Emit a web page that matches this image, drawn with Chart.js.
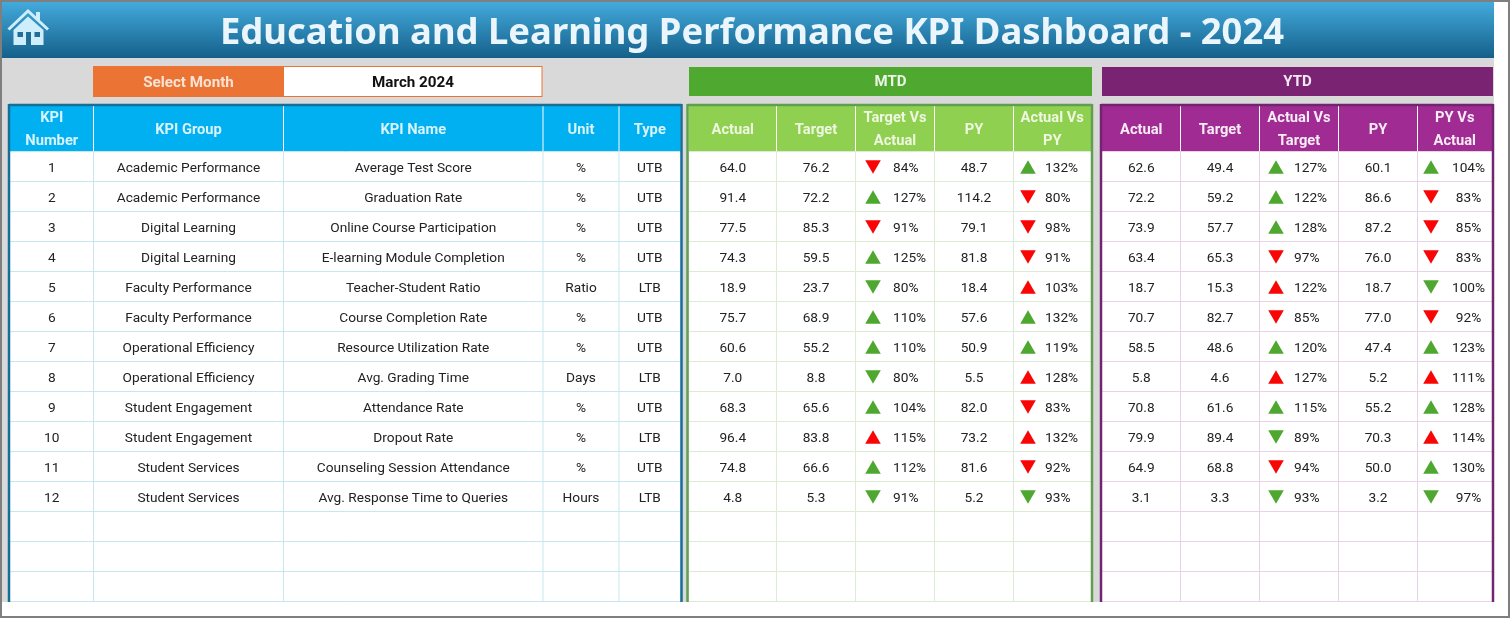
<!DOCTYPE html>
<html>
<head>
<meta charset="utf-8">
<title>Education and Learning Performance KPI Dashboard</title>
<script src="https://cdn.jsdelivr.net/npm/chart.js@4"></script>
<style>
html, body { margin: 0; padding: 0; background: #fff; overflow: hidden; }
canvas { display: block; }
</style>
</head>
<body>
<canvas id="dashboard" width="1510" height="618"></canvas>
<script>
const titleText = 'Education and Learning Performance KPI Dashboard - 2024';
const selectLabel = 'Select Month';
const selectedMonth = 'March 2024';

const infoHeaders = [['KPI', 'Number'], ['KPI Group'], ['KPI Name'], ['Unit'], ['Type']];
const mtdHeaders = [['Actual'], ['Target'], ['Target Vs', 'Actual'], ['PY'], ['Actual Vs', 'PY']];
const ytdHeaders = [['Actual'], ['Target'], ['Actual Vs', 'Target'], ['PY'], ['PY Vs', 'Actual']];

const kpiNumbers = [1, 2, 3, 4, 5, 6, 7, 8, 9, 10, 11, 12];
const kpiGroups = ['Academic Performance', 'Academic Performance', 'Digital Learning', 'Digital Learning',
    'Faculty Performance', 'Faculty Performance', 'Operational Efficiency', 'Operational Efficiency',
    'Student Engagement', 'Student Engagement', 'Student Services', 'Student Services'];
const kpiNames = ['Average Test Score', 'Graduation Rate', 'Online Course Participation',
    'E-learning Module Completion', 'Teacher-Student Ratio', 'Course Completion Rate',
    'Resource Utilization Rate', 'Avg. Grading Time', 'Attendance Rate', 'Dropout Rate',
    'Counseling Session Attendance', 'Avg. Response Time to Queries'];
const kpiUnits = ['%', '%', '%', '%', 'Ratio', '%', '%', 'Days', '%', '%', '%', 'Hours'];
const kpiTypes = ['UTB', 'UTB', 'UTB', 'UTB', 'LTB', 'UTB', 'UTB', 'LTB', 'UTB', 'LTB', 'UTB', 'LTB'];

const mtdActual = ['64.0', '91.4', '77.5', '74.3', '18.9', '75.7', '60.6', '7.0', '68.3', '96.4', '74.8', '4.8'];
const mtdTarget = ['76.2', '72.2', '85.3', '59.5', '23.7', '68.9', '55.2', '8.8', '65.6', '83.8', '66.6', '5.3'];
const mtdVsTarget = [84, 127, 91, 125, 80, 110, 110, 80, 104, 115, 112, 91];
const mtdPY = ['48.7', '114.2', '79.1', '81.8', '18.4', '57.6', '50.9', '5.5', '82.0', '73.2', '81.6', '5.2'];
const mtdVsPY = [132, 80, 98, 91, 103, 132, 119, 128, 83, 132, 92, 93];

const ytdActual = ['62.6', '72.2', '73.9', '63.4', '18.7', '70.7', '58.5', '5.8', '70.8', '79.9', '64.9', '3.1'];
const ytdTarget = ['49.4', '59.2', '57.7', '65.3', '15.3', '82.7', '48.6', '4.6', '61.6', '89.4', '68.8', '3.3'];
const ytdVsTarget = [127, 122, 128, 97, 122, 85, 120, 127, 115, 89, 94, 93];
const ytdPY = ['60.1', '86.6', '87.2', '76.0', '18.7', '77.0', '47.4', '5.2', '55.2', '70.3', '50.0', '3.2'];
const ytdVsActual = [104, 83, 85, 83, 100, 92, 123, 111, 128, 114, 130, 97];

// layout, in sheet pixels
const FONT = 'Roboto';
const rowTop = 152, rowH = 30, rowCount = 15;
const infoEdges = [10, 93.5, 283.5, 543, 619, 680.5];
const mtdEdges = [689, 776.5, 855.5, 934.5, 1013.5, 1091];
const ytdEdges = [1102, 1180.5, 1259.5, 1338.5, 1417.5, 1492];

// arrow columns: x of the arrow, x of the label, label alignment
const arrowCols = [
    { values: mtdVsTarget, ax: 873, tx: 893, align: 'left' },
    { values: mtdVsPY, ax: 1028, tx: 1045, align: 'left' },
    { values: ytdVsTarget, ax: 1276, tx: 1294, align: 'left' },
    { values: ytdVsActual, ax: 1431, tx: 1468.5, align: 'center' }
];

function arrowColor(pct, i) {
    const up = pct > 100;
    return up === (kpiTypes[i] === 'UTB') ? '#4ea72e' : '#fa0505';
}

const arrowRadius = 9;
const arrowDatasets = arrowCols.map(col => ({
    data: col.values.map((pct, i) => ({
        x: col.ax,
        // triangle's centre of box is a bit off the point it is drawn on
        y: i + 0.5 + (pct > 100 ? 1 : -1) * arrowRadius / 4 / rowH
    })),
    showLine: false,
    pointStyle: 'triangle',
    pointRadius: arrowRadius,
    pointBorderWidth: 0,
    pointBackgroundColor: col.values.map(arrowColor),
    pointRotation: col.values.map(pct => pct > 100 ? 0 : 180)
}));

const dashboardPlugin = {
    id: 'dashboardSheet',
    beforeDatasetsDraw(chart) {
        const ctx = chart.ctx;
        const X = v => chart.scales.x.getPixelForValue(v);
        const R = v => chart.scales.y.getPixelForValue(v);             // row units
        const Y = px => chart.scales.y.getPixelForValue((px - rowTop) / rowH);

        function box(x0, y0, x1, y1, fill) {
            ctx.fillStyle = fill;
            ctx.fillRect(X(x0), Y(y0), X(x1) - X(x0), Y(y1) - Y(y0));
        }
        function line(x0, y0, x1, y1, color, width) {
            ctx.strokeStyle = color;
            ctx.lineWidth = width;
            ctx.beginPath();
            ctx.moveTo(X(x0), Y(y0));
            ctx.lineTo(X(x1), Y(y1));
            ctx.stroke();
        }
        function text(str, x, yPx, font, color, align) {
            ctx.font = font;
            ctx.fillStyle = color;
            ctx.textAlign = align || 'center';
            ctx.textBaseline = 'middle';
            ctx.fillText(str, X(x), yPx);
        }

        // sheet
        box(0, 0, 1510, 618, '#ffffff');
        box(2, 2, 1494, 602, '#d9d9d9');

        // banner
        const grad = ctx.createLinearGradient(0, Y(2), 0, Y(58));
        grad.addColorStop(0, '#43aadc');
        grad.addColorStop(1, '#15608a');
        box(2, 2, 1494, 58, grad);
        text(titleText, 752, Y(34), 'bold 36.4px "Noto Sans"', '#eaf6fc');
        drawHome();

        // month selector
        box(93, 66, 284, 97, '#eb7434');
        box(284, 67, 542, 96, '#ffffff');
        ctx.strokeStyle = '#eb7434';
        ctx.lineWidth = 1;
        ctx.strokeRect(X(284) - 0.5, Y(66.5), X(542.5) - X(284), Y(96.5) - Y(66.5));
        text(selectLabel, 188.5, Y(83), 'bold 15.2px ' + FONT, '#fbe3d4');
        text(selectedMonth, 413, Y(83), 'bold 15.2px ' + FONT, '#111111');

        // section bars
        box(689, 67, 1092, 96, '#4fa82f');
        text('MTD', 890.5, Y(82.5), 'bold 15px ' + FONT, '#ecf6e6');
        box(1102, 67, 1493, 96, '#7a2372');
        text('YTD', 1297.5, Y(82.5), 'bold 15px ' + FONT, '#f6e8f4');

        // the three tables
        const bodyFont = '13.7px ' + FONT, headFont = 'bold 14.7px ' + FONT;
        drawTable(infoEdges, infoHeaders, '#00b0f0', '#d9f3fd', '#c8e6f0', '#156f98', 9, 681.5);
        drawTable(mtdEdges, mtdHeaders, '#90d050', '#eef7e0', '#dcebd6', '#5f9f4f', 687.5, 1092);
        drawTable(ytdEdges, ytdHeaders, '#a02b93', '#f8ecf6', '#e6d3e6', '#732470', 1101, 1493);

        function drawTable(edges, headers, headFill, headColor, gridColor, frameColor, left, right) {
            box(edges[0], 106, edges[edges.length - 1], 152, headFill);
            box(edges[0], 152, edges[edges.length - 1], 602, '#ffffff');
            for (let r = 0; r <= rowCount; r++) {
                line(edges[0], rowTop + r * rowH - 0.5, edges[edges.length - 1], rowTop + r * rowH - 0.5, gridColor, 1);
            }
            edges.slice(1, -1).forEach(x => {
                line(x, 106, x, 151, '#ffffff', 1);
                line(x, 152, x, 602, gridColor, 1);
            });
            headers.forEach((lines, c) => {
                const cx = (edges[c] + edges[c + 1]) / 2;
                lines.forEach((s, l) => {
                    const yPos = lines.length === 1 ? 130 : (l === 0 ? 118 : 141);
                    text(s, cx, Y(yPos), headFont, headColor);
                });
            });
            line(left, 105, right, 105, frameColor, 2.5);
            line(left, 104, left, 602, frameColor, 2.5);
            line(right, 104, right, 602, frameColor, 2.5);
        }

        // cell text goes through the row scale
        const centre = (edges, c) => (edges[c] + edges[c + 1]) / 2;
        const bodyCols = [
            [kpiNumbers, infoEdges, 0], [kpiGroups, infoEdges, 1], [kpiNames, infoEdges, 2],
            [kpiUnits, infoEdges, 3], [kpiTypes, infoEdges, 4],
            [mtdActual, mtdEdges, 0], [mtdTarget, mtdEdges, 1], [mtdPY, mtdEdges, 3],
            [ytdActual, ytdEdges, 0], [ytdTarget, ytdEdges, 1], [ytdPY, ytdEdges, 3]
        ];
        bodyCols.forEach(([values, edges, c]) => {
            values.forEach((v, i) => text(String(v), centre(edges, c), R(i + 0.5) + 1.5, bodyFont, '#222222'));
        });
        arrowCols.forEach(col => {
            col.values.forEach((pct, i) => text(pct + '%', col.tx, R(i + 0.5) + 1.5, bodyFont, '#222222', col.align));
        });

        // outer border
        ctx.strokeStyle = '#7f7f7f';
        ctx.lineWidth = 2;
        ctx.strokeRect(X(0) + 1, Y(0) + 1, X(1510) - X(0) - 2, Y(618) - Y(0) - 2);

        function drawHome() {
            const c = '#cfeefb';
            ctx.strokeStyle = c;
            ctx.lineWidth = 3;
            ctx.lineJoin = 'miter';
            ctx.beginPath();
            ctx.moveTo(X(8.5), Y(29.5));
            ctx.lineTo(X(28), Y(11));
            ctx.lineTo(X(48), Y(29.5));
            ctx.stroke();
            box(36, 12, 40, 20, c);
            ctx.fillStyle = c;
            ctx.beginPath();
            ctx.moveTo(X(13.5), Y(30));
            ctx.lineTo(X(28), Y(16.5));
            ctx.lineTo(X(43.5), Y(30));
            ctx.lineTo(X(43.5), Y(45));
            ctx.lineTo(X(13.5), Y(45));
            ctx.closePath();
            ctx.fill();
            box(17.5, 32, 23, 37, '#1f6f99');
            box(34.5, 32, 40, 37, '#1f6f99');
            box(26, 32, 31, 45, '#1f6f99');
        }
    }
};

new Chart(document.getElementById('dashboard'), {
    type: 'scatter',
    data: { datasets: arrowDatasets },
    options: {
        responsive: false,
        animation: false,
        devicePixelRatio: 1,
        layout: { padding: 0, autoPadding: false },
        plugins: { legend: { display: false }, tooltip: { enabled: false } },
        scales: {
            x: { type: 'linear', display: false, min: 0, max: 1510 },
            // y runs in table rows, row 0 starts under the header
            y: { type: 'linear', display: false, reverse: true, min: -rowTop / rowH, max: (618 - rowTop) / rowH }
        }
    },
    plugins: [dashboardPlugin]
});
</script>
</body>
</html>
